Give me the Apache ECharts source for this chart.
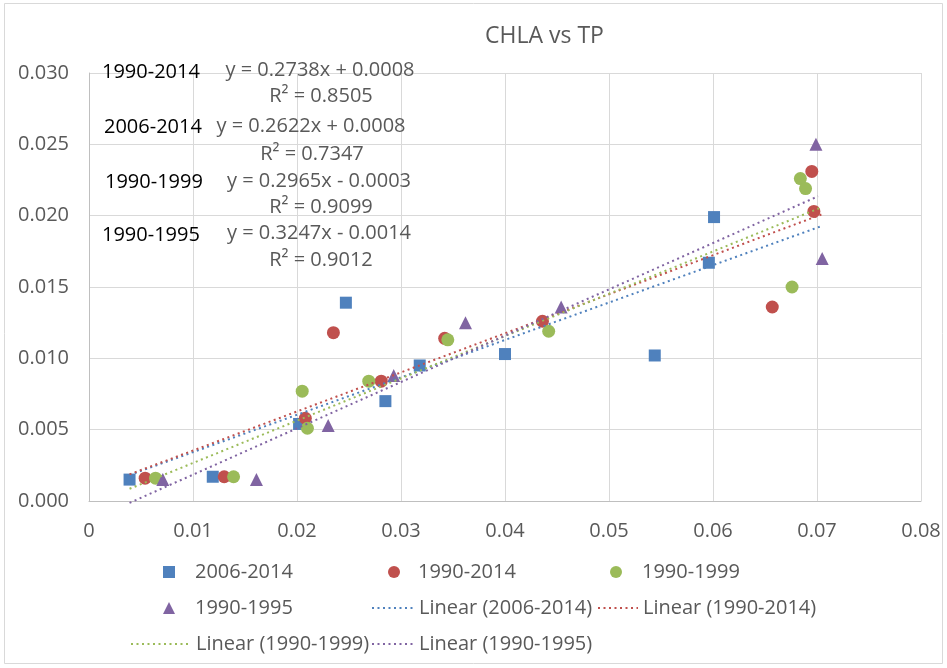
<!DOCTYPE html>
<html>
<head>
<meta charset="utf-8">
<script src="https://cdn.jsdelivr.net/npm/echarts@6/dist/echarts.min.js"></script>
<style>html,body{margin:0;padding:0;background:#fff}#c{width:947px;height:668px}</style>
</head>
<body>
<div id="c"></div>
<script>
// ---- data ----
const seriesNames = ['2006-2014', '1990-2014', '1990-1999', '1990-1995'];
const tp2006 = [0.0039, 0.0119, 0.0202, 0.0247, 0.0285, 0.0318, 0.0400, 0.0544, 0.0596, 0.0601];
const chla2006 = [0.0015, 0.0017, 0.0054, 0.0139, 0.0070, 0.0095, 0.0103, 0.0102, 0.0167, 0.0199];
const tp1990_2014 = [0.0054, 0.0130, 0.0208, 0.0235, 0.0281, 0.0342, 0.0436, 0.0657, 0.0695, 0.0697];
const chla1990_2014 = [0.0016, 0.0017, 0.0058, 0.0118, 0.0084, 0.0114, 0.0126, 0.0136, 0.0231, 0.0203];
const tp1990_1999 = [0.0064, 0.0139, 0.0205, 0.0210, 0.0269, 0.0345, 0.0442, 0.0676, 0.0684, 0.0689];
const chla1990_1999 = [0.0016, 0.0017, 0.0077, 0.0051, 0.0084, 0.0113, 0.0119, 0.0150, 0.0226, 0.0219];
const tp1990_1995 = [0.0071, 0.0161, 0.0230, 0.0293, 0.0362, 0.0454, 0.0699, 0.0705];
const chla1990_1995 = [0.0015, 0.0015, 0.0053, 0.0088, 0.0125, 0.0136, 0.0250, 0.0170];
// trendline coefficients (as printed on the chart) and their x extents
const trendSlopes = [0.2622, 0.2738, 0.2965, 0.3247];
const trendIntercepts = [0.0008, 0.0008, -0.0003, -0.0014];
const trendStartX = [0.0039, 0.0039, 0.0039, 0.0039];
const trendEndX = [0.0705, 0.0705, 0.0703, 0.0701];
const xTickLabels = ['0', '0.01', '0.02', '0.03', '0.04', '0.05', '0.06', '0.07', '0.08'];
const yTickLabels = ['0.000', '0.005', '0.010', '0.015', '0.020', '0.025', '0.030'];
const annotLabels = ['1990-2014', '2006-2014', '1990-1999', '1990-1995'];
const annotEquations = ['y = 0.2738x + 0.0008', 'y = 0.2622x + 0.0008', 'y = 0.2965x - 0.0003', 'y = 0.3247x - 0.0014'];
const annotR2 = ['R² = 0.8505', 'R² = 0.7347', 'R² = 0.9099', 'R² = 0.9012'];
const titleText = 'CHLA vs TP';

// ---- styles ----
const FONT = 'Open Sans';
const GREY = '#595959';
const colors = ['#4F81BD', '#C0504D', '#9BBB59', '#8064A2'];
const symbols = ['rect', 'circle', 'circle', 'triangle'];
const symSizes = [12, 13, 13, 13];
const xs = [tp2006, tp1990_2014, tp1990_1999, tp1990_1995];
const ys = [chla2006, chla1990_2014, chla1990_1999, chla1990_1995];

const series = [];
for (let i = 0; i < 4; i++) {
  series.push({
    name: seriesNames[i], type: 'scatter', symbol: symbols[i], symbolSize: symSizes[i],
    itemStyle: { color: colors[i], opacity: 1 }, z: 2 + i,
    data: xs[i].map((x, j) => [x, ys[i][j]])
  });
}
for (let i = 0; i < 4; i++) {
  const a = trendStartX[i], b = trendEndX[i];
  series.push({
    name: 'Linear (' + seriesNames[i] + ')', type: 'line', symbol: 'none', clip: false, z: 10,
    lineStyle: { color: colors[i], width: 2, type: [2, 3.5], cap: 'butt' },
    itemStyle: { color: colors[i] },
    data: [[a, trendSlopes[i] * a + trendIntercepts[i]], [b, trendSlopes[i] * b + trendIntercepts[i]]]
  });
}

// marker legend entry: icon centred at cx, text starting at tx
function legMarker(name, sym, cx, tx, top) {
  const w = 12;
  const left = cx - w / 2;
  return {
    data: [{ name: name, icon: sym }], left: left, top: top, orient: 'horizontal', padding: 0,
    itemWidth: w, itemHeight: 12, selectedMode: false, symbolKeepAspect: true,
    textStyle: { fontFamily: FONT, fontSize: 20, color: GREY, padding: [0, 0, 0, tx - (left + w + 5)] }
  };
}
function legLine(name, left, w, top) {
  return {
    data: [name], left: left, top: top, orient: 'horizontal', padding: 0,
    itemWidth: w, itemHeight: 12, selectedMode: false,
    itemStyle: { opacity: 0 },
    textStyle: { fontFamily: FONT, fontSize: 20, color: GREY }
  };
}
const legends = [
  legMarker('2006-2014', 'rect', 169, 195, 562),
  legMarker('1990-2014', 'circle', 394, 418, 562),
  legMarker('1990-1999', 'circle', 616, 642, 562),
  legMarker('1990-1995', 'triangle', 169, 195, 598),
  legLine('Linear (2006-2014)', 371, 42, 598),
  legLine('Linear (1990-2014)', 597, 40, 598),
  legLine('Linear (1990-1999)', 130, 60, 634),
  legLine('Linear (1990-1995)', 371, 42, 634)
];

const labelPos = [[102, 72], [104, 127], [105, 182], [102, 235]];
const eqPos = [[320, 70], [311, 126], [319, 181], [319, 233]];
const r2Pos = [[321, 96], [312, 154], [321, 207], [321, 260]];
const graphics = [{
  type: 'rect', shape: { x: 4.5, y: 3.5, width: 938, height: 660 },
  style: { fill: 'none', stroke: '#D9D9D9', lineWidth: 1 }, silent: true, z: -1
}];
for (let i = 0; i < 4; i++) {
  graphics.push({ type: 'text', x: labelPos[i][0], y: labelPos[i][1], z: 20,
    style: { text: annotLabels[i], fill: '#000', font: '20px "' + FONT + '"', textAlign: 'left', textVerticalAlign: 'middle' } });
  graphics.push({ type: 'text', x: eqPos[i][0], y: eqPos[i][1], z: 20,
    style: { text: annotEquations[i], fill: GREY, font: '20px "' + FONT + '"', textAlign: 'center', textVerticalAlign: 'middle' } });
  graphics.push({ type: 'text', x: r2Pos[i][0], y: r2Pos[i][1], z: 20,
    style: { text: annotR2[i], fill: GREY, font: '20px "' + FONT + '"', textAlign: 'center', textVerticalAlign: 'middle' } });
}

const chart = echarts.init(document.getElementById('c'));
chart.setOption({
  animation: false,
  backgroundColor: '#fff',
  title: { text: titleText, left: 485, top: 25, padding: 0,
    textStyle: { fontFamily: FONT, fontSize: 23, fontWeight: 'normal', color: GREY } },
  grid: { left: 89, right: 26, top: 73, bottom: 167, containLabel: false },
  xAxis: {
    type: 'value', min: 0, max: 0.08, interval: 0.01,
    axisLine: { show: true, lineStyle: { color: '#BFBFBF', width: 1 } },
    axisTick: { show: false },
    splitLine: { show: true, lineStyle: { color: '#D9D9D9', width: 1 } },
    axisLabel: { margin: 20, fontFamily: FONT, fontSize: 20, color: GREY,
      formatter: v => xTickLabels[Math.round(v / 0.01)] }
  },
  yAxis: {
    type: 'value', min: 0, max: 0.03, interval: 0.005,
    axisLine: { show: true, lineStyle: { color: '#BFBFBF', width: 1 } },
    axisTick: { show: false },
    splitLine: { show: true, lineStyle: { color: '#D9D9D9', width: 1 } },
    axisLabel: { margin: 20, fontFamily: FONT, fontSize: 20, color: GREY,
      formatter: v => yTickLabels[Math.round(v / 0.005)] }
  },
  legend: legends,
  graphic: graphics,
  series: series
});
</script>
</body>
</html>
